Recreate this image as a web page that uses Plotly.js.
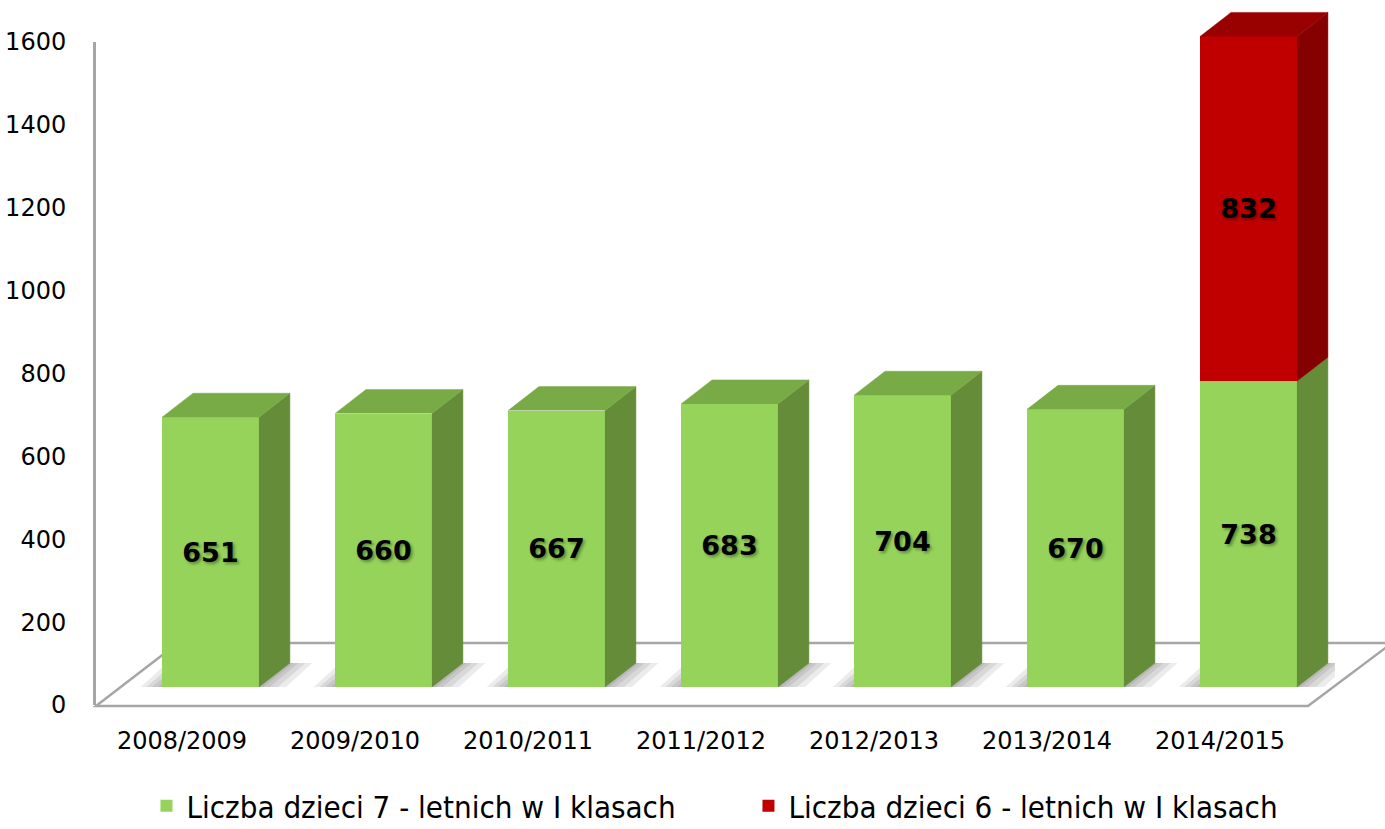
<!DOCTYPE html>
<html>
<head>
<meta charset="utf-8">
<script src="https://cdn.plot.ly/plotly-3.0.1.min.js"></script>
<style>
  html, body { margin: 0; padding: 0; background: #ffffff; }
  #chart { width: 1385px; height: 829px; }
</style>
</head>
<body>
<div id="chart"></div>
<script>
// ---- data ----
const categories = ['2008/2009', '2009/2010', '2010/2011', '2011/2012', '2012/2013', '2013/2014', '2014/2015'];
const sevenYearOlds = [651, 660, 667, 683, 704, 670, 738];
const sixYearOlds = [null, null, null, null, null, null, 832];
const seriesNames = ['Liczba dzieci 7 - letnich w I klasach', 'Liczba dzieci 6 - letnich w I klasach'];
const yTickValues = [0, 200, 400, 600, 800, 1000, 1200, 1400, 1600];

// ---- style / geometry (not data) ----
const HALF = 0.28;      // half bar width (category units)
const DX = 0.179;       // depth offset in x (category units)
const DY = 58;          // depth offset in y (value units)
const green = {front: '#95d35a', side: '#658c38', top: '#78aa46'};
const red = {front: '#c00000', side: '#850000', top: '#990000'};

const idx = categories.map((_, i) => i);

function sideFaces(bases, heights) {
  const xs = [], ys = [];
  idx.forEach(i => {
    const h = heights[i];
    if (h == null) return;
    const b = bases[i] || 0;
    xs.push(i + HALF, i + HALF + DX, i + HALF + DX, i + HALF, null);
    ys.push(b, b + DY, b + h + DY, b + h, null);
  });
  return {xs, ys};
}
function topFaces(tops, which) {
  const xs = [], ys = [];
  idx.forEach(i => {
    if (!which(i)) return;
    const t = tops[i];
    xs.push(i - HALF, i - HALF + DX, i + HALF + DX, i + HALF, null);
    ys.push(t, t + DY, t + DY, t, null);
  });
  return {xs, ys};
}
// soft shadow footprint around each bar base
function shadowFaces(expandL, expandR, down, up) {
  const xs = [], ys = [];
  idx.forEach(i => {
    xs.push(i - HALF - expandL, i - HALF - expandL + DX, i + HALF + DX + expandR, i + HALF + expandR, null);
    ys.push(-down, DY + up, DY + up, -down, null);
  });
  return {xs, ys};
}

const totals = idx.map(i => sevenYearOlds[i] + (sixYearOlds[i] || 0));
const greenSide = sideFaces(idx.map(() => 0), sevenYearOlds);
const redSide = sideFaces(sevenYearOlds, sixYearOlds);
const greenTop = topFaces(totals, i => sixYearOlds[i] == null);
const redTop = topFaces(totals, i => sixYearOlds[i] != null);
const shadows = [
  shadowFaces(0.15, 0.13, 10, 0),
  shadowFaces(0.11, 0.09, 7, 0),
  shadowFaces(0.07, 0.05, 4, 0),
  shadowFaces(0.03, 0.02, 2, 0)
];

function poly(p, color, xa, ya) {
  return {type: 'scatter', mode: 'lines', x: p.xs, y: p.ys, fill: 'toself',
    fillcolor: color, line: {color: color, width: 0.5}, xaxis: xa, yaxis: ya,
    showlegend: false, hoverinfo: 'skip', connectgaps: false};
}
function softPoly(p, color, xa, ya) {
  return {type: 'scatter', mode: 'lines', x: p.xs, y: p.ys, fill: 'toself',
    fillcolor: color, line: {width: 0, color: 'rgba(0,0,0,0)'}, xaxis: xa, yaxis: ya,
    showlegend: false, hoverinfo: 'skip', connectgaps: false};
}

const labelFont = {family: 'DejaVu Sans, Verdana, sans-serif', size: 27, color: '#000000', weight: 'bold',
  shadow: '2px 2px 3px rgba(0,0,0,0.35)'};
const tickFont = {family: 'DejaVu Sans, Verdana, sans-serif', size: 24, color: '#000000'};

const traces = [
  // carrier for the category / value label axes (no visible marks)
  {type: 'scatter', mode: 'markers', x: idx, y: idx.map(() => null), xaxis: 'x', yaxis: 'y',
    showlegend: false, hoverinfo: 'skip', marker: {opacity: 0}},
  ...shadows.map(s => softPoly(s, 'rgba(0,0,0,0.08)', 'x2', 'y2')),
  {type: 'bar', name: seriesNames[0], x: idx, y: sevenYearOlds, width: idx.map(() => 2 * HALF),
    xaxis: 'x3', yaxis: 'y3', marker: {color: green.front, line: {width: 0}},
    text: sevenYearOlds.map(String), textposition: 'inside', insidetextanchor: 'middle',
    textangle: 0, textfont: labelFont, hoverinfo: 'skip'},
  {type: 'bar', name: seriesNames[1], x: idx, y: sixYearOlds, width: idx.map(() => 2 * HALF),
    xaxis: 'x3', yaxis: 'y3', marker: {color: red.front, line: {width: 0}},
    text: sixYearOlds.map(v => v == null ? '' : String(v)), textposition: 'inside', insidetextanchor: 'middle',
    textangle: 0, textfont: labelFont, hoverinfo: 'skip'},
  poly(greenSide, green.side, 'x3', 'y3'),
  poly(redSide, red.side, 'x3', 'y3'),
  poly(greenTop, green.top, 'x3', 'y3'),
  poly(redTop, red.top, 'x3', 'y3')
];

// pixel helpers for the decorative floor (paper coordinates)
const ML = 95, MR = 50, MT = 5, MB = 124, W = 1385, H = 829;
const PW = W - ML - MR, PH = H - MT - MB;
const px = v => (v - ML) / PW;
const py = v => (H - MB - v) / PH;
const floorPath = 'M' + px(96) + ',' + py(706) + ' L' + px(178) + ',' + py(643) +
  ' L' + px(1392) + ',' + py(643) + ' L' + px(1308) + ',' + py(706) + ' Z';

const y1Top = py(42);          // 1600 on the label axis
const y2Bottom = py(687);      // 0 on the bar axis
const pxPerUnit = (705 - 42) / 1600;
const y2Max = (687 - MT) / pxPerUnit;

const hiddenAxis = {showgrid: false, zeroline: false, showline: false, showticklabels: false, ticks: '', fixedrange: true};

const layout = {
  width: W, height: H,
  margin: {l: ML, r: MR, t: MT, b: MB, pad: 0, autoexpand: false},
  paper_bgcolor: '#ffffff', plot_bgcolor: 'rgba(0,0,0,0)',
  barmode: 'stack',
  showlegend: true,
  legend: {orientation: 'h', x: 0.527, xanchor: 'center', y: py(806), yanchor: 'middle',
    font: {family: 'Liberation Sans Narrow, DejaVu Sans Condensed, Arial Narrow, sans-serif', size: 31, color: '#000000'},
    entrywidth: 557, traceorder: 'normal', bgcolor: 'rgba(0,0,0,0)'},
  xaxis: {domain: [px(95.5), px(1306.5)], range: [-0.5, 6.5], anchor: 'y',
    tickmode: 'array', tickvals: idx, ticktext: categories, ticks: '', showgrid: false, zeroline: false,
    showline: false, ticklabelstandoff: 19, tickfont: tickFont, fixedrange: true},
  yaxis: {domain: [0, y1Top], range: [0, 1600], anchor: 'x',
    tickmode: 'array', tickvals: yTickValues, ticktext: yTickValues.map(String), ticks: '', showgrid: false,
    zeroline: false, showline: true, linecolor: '#a6a6a6', linewidth: 2.5, ticklabelstandoff: 22,
    tickfont: tickFont, fixedrange: true},
  xaxis2: Object.assign({domain: [px(124), 1], range: [-0.5, 6.5], anchor: 'y2'}, hiddenAxis),
  yaxis2: Object.assign({domain: [y2Bottom, 1], range: [0, y2Max], anchor: 'x2'}, hiddenAxis),
  xaxis3: Object.assign({domain: [px(124), 1], range: [-0.5, 6.5], anchor: 'y3'}, hiddenAxis),
  yaxis3: Object.assign({domain: [y2Bottom, 1], range: [0, y2Max], anchor: 'x3'}, hiddenAxis),
  shapes: [
    {type: 'path', xref: 'paper', yref: 'paper', path: floorPath, fillcolor: '#ffffff',
      line: {color: '#a6a6a6', width: 2.5}, layer: 'below'}
  ]
};

Plotly.newPlot('chart', traces, layout, {displayModeBar: false, staticPlot: true});
</script>
</body>
</html>
